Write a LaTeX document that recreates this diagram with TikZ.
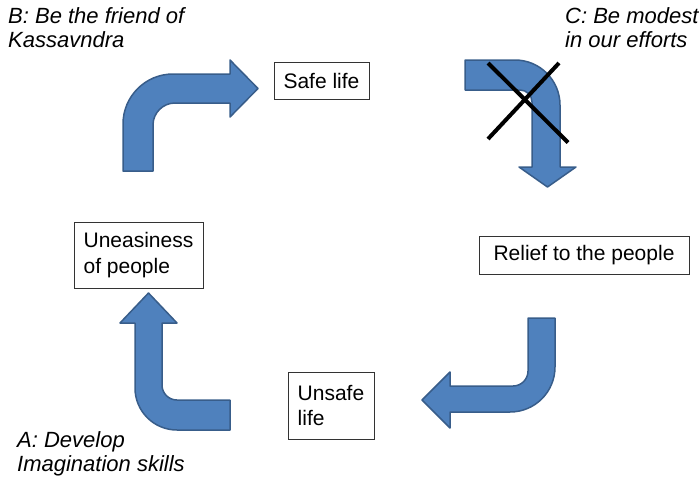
\documentclass[tikz,border=0pt]{standalone}
\usepackage{fontspec}
\setmainfont{Liberation Sans}
\definecolor{arrowfill}{HTML}{4F81BD}
\definecolor{arrowdraw}{HTML}{385D8A}
\begin{document}
\begin{tikzpicture}[x=1pt,y=-1pt,
  bluearrow/.style={fill=arrowfill,draw=arrowdraw,line width=1.5pt,line join=round},
  box/.style={draw=black!80,line width=0.8pt,inner sep=0pt,align=left,font=\fontsize{21}{25.5}\selectfont},
  lbl/.style={inner sep=0pt,align=left,anchor=north west,font=\fontsize{22}{24}\selectfont\itshape},
  cross/.style={line width=4pt,black}]
\useasboundingbox (0,0) rectangle (699,480);

% arrow 1: up then right
\draw[bluearrow] (123,171) -- (123,124) .. controls (123,96.4) and (145.4,74) .. (173,74)
  -- (230,74) -- (230,60) -- (258,88.5) -- (230,117) -- (230,103) -- (175,103)
  .. controls (162.9,103) and (153,112.9) .. (153,125) -- (153,171) -- cycle;

% arrow 2: right then down
\draw[bluearrow] (465,60) -- (515,60) .. controls (539.8,60) and (560,80.2) .. (560,105)
  -- (560,167) -- (576,167) -- (547.5,187) -- (519,167) -- (532,167) -- (532,102)
  .. controls (532,95.4) and (526.6,90) .. (520,90) -- (465,90) -- cycle;

% arrow 3: down then left
\draw[bluearrow] (528,318) -- (555,318) -- (555,367) .. controls (555,391.9) and (534.9,412) .. (510,412)
  -- (450,412) -- (450,428) -- (422,400) -- (450,372) -- (450,386) -- (513,386)
  .. controls (521.3,386) and (528,379.3) .. (528,371) -- cycle;

% arrow 4: left then up
\draw[bluearrow] (230,400) -- (177,400) .. controls (168.7,400) and (162,393.3) .. (162,385)
  -- (162,323) -- (177,323) -- (148.5,293) -- (120,323) -- (135,323) -- (135,388)
  .. controls (135,411.2) and (153.8,430) .. (177,430) -- (230,430) -- cycle;

% cross
\draw[cross] (488,63) -- (568,142.5);
\draw[cross] (559,63) -- (488,139);

% boxes
\node[box,minimum width=95pt,minimum height=37pt] (safe) at (321.5,80.5) {Safe life};
\node[box,minimum width=129pt,minimum height=66pt] (uneasy) at (138.5,255) {Uneasiness\\of people};
\node[box,minimum width=210pt,minimum height=38pt] (relief) at (584,255) {Relief to the people};
\node[box,minimum width=86pt,minimum height=67pt] (unsafe) at (331,405.5) {Unsafe\\life};

% labels
\node[lbl] (lb) at (8,7) {B: Be the friend of\\Kassavndra};
\node[lbl] (lc) at (565,7) {C: Be modest\\in our efforts};
\node[lbl] (la) at (17,431) {A: Develop\\Imagination skills};
\end{tikzpicture}
\end{document}
